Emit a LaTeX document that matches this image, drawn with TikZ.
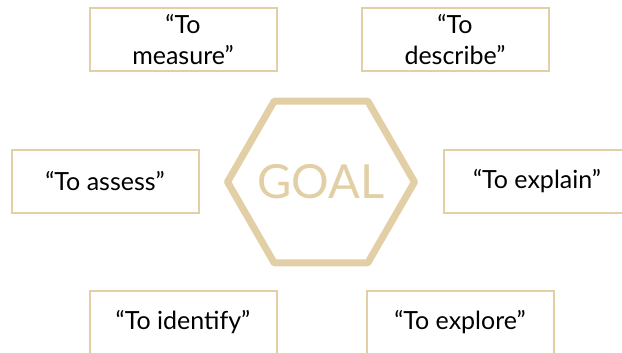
\documentclass[tikz,border=0pt]{standalone}
\usepackage{fontspec}
\setmainfont{Lato}
\usetikzlibrary{shapes.geometric}
\definecolor{goldline}{HTML}{E2CFA5}
\begin{document}
\begin{tikzpicture}
      [x=1pt,y=-1pt,
       box/.style={draw=goldline, line width=2pt, minimum width=187pt, minimum height=63pt,
                   inner sep=0pt, align=center, font=\fontsize{25}{31}\selectfont}]
    \useasboundingbox (0,0) rectangle (622,353);
    \clip (0,0) rectangle (622,353);
    \node[regular polygon, regular polygon sides=6, draw=goldline, line width=7pt,
          line join=round, minimum size=187pt, inner sep=0pt] (hex) at (321,182) {};
    \node[text=goldline, font=\fontsize{47}{47}\selectfont] (goal) at (hex.center) {GOAL};

    \node[box] (measure) at (183,40) {“To\\measure”};
    \node[box] (describe) at (455,40) {“To\\describe”};
    \node[box] (assess) at (105,181) {“To assess”};
    \node[box] (explain) at (537,181) {“To explain”};
    \node[box] (identify) at (183,322) {“To identify”};
    \node[box] (explore) at (460,322) {“To explore”};
\end{tikzpicture}
\end{document}
